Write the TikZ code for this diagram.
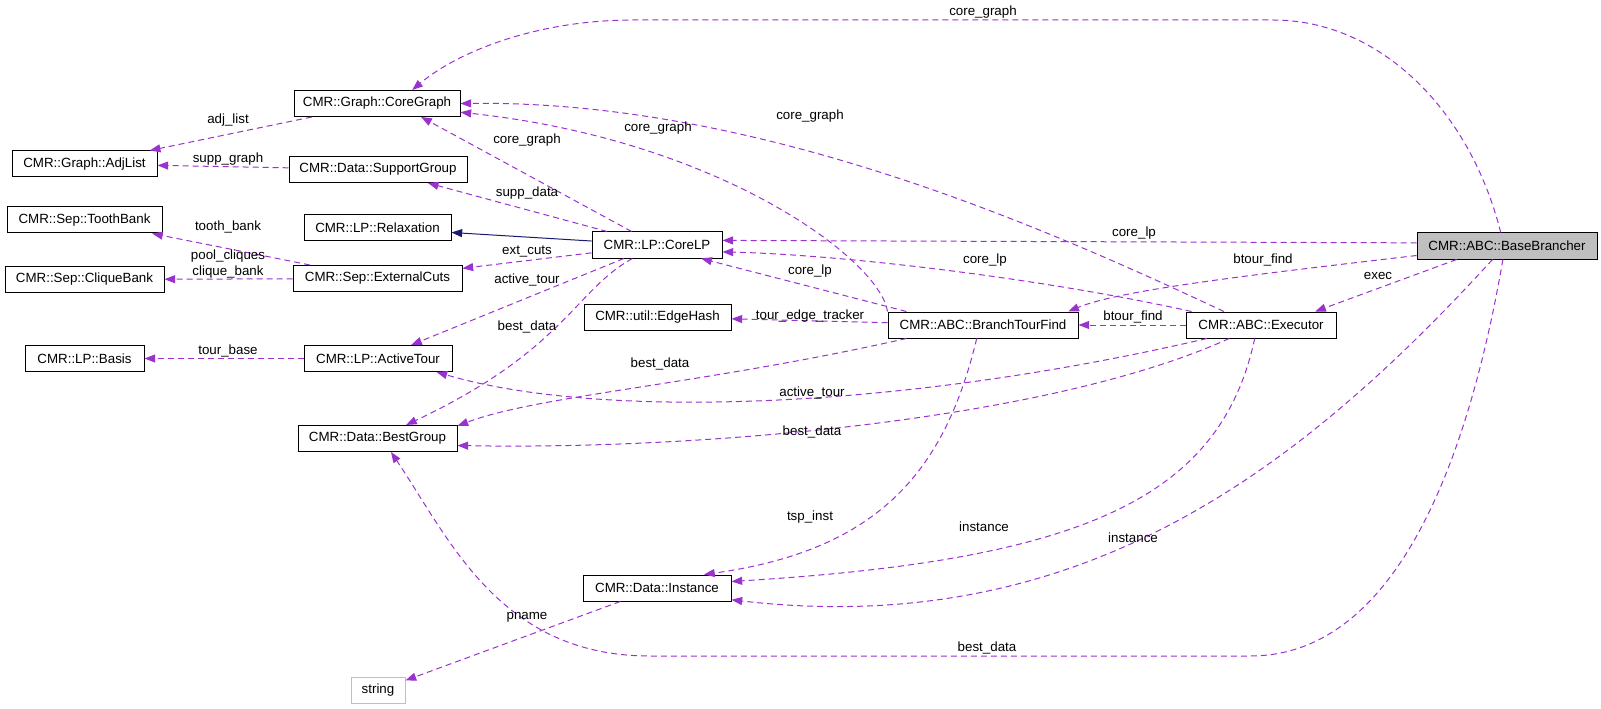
\documentclass[tikz,border=0pt]{standalone}
\usepackage{fontspec}
\setmainfont{Liberation Sans}
\usetikzlibrary{arrows.meta}
\definecolor{dxpurple}{RGB}{154,50,205}
\definecolor{dxnavy}{RGB}{25,25,112}
\definecolor{dxgray}{RGB}{191,191,191}
\tikzstyle{cls} = [rectangle, draw=black, line width=0.75pt, minimum height=19.5pt, inner sep=2pt, font=\fontsize{10}{12}\selectfont]
\tikzstyle{dep} = [line width=0.75pt, dxpurple, dash pattern=on 4.5pt off 3pt, -{Triangle[length=8pt,width=6pt]}]
\tikzstyle{inh} = [line width=0.75pt, dxnavy, -{Triangle[length=8pt,width=6pt]}]
\tikzstyle{lbl} = [inner sep=0pt, font=\fontsize{10}{11.5}\selectfont, align=center]
\begin{document}
\begin{tikzpicture}[x=0.75pt, y=-0.75pt]
\useasboundingbox (0,0) rectangle (1601,709);

% Left column
\node (adjlist) [cls, minimum width=108.75pt] at (84.5,164) {CMR::Graph::AdjList};
\node (toothbank) [cls, minimum width=116.25pt] at (84.5,220) {CMR::Sep::ToothBank};
\node (cliquebank) [cls, minimum width=119.25pt] at (84.5,279.5) {CMR::Sep::CliqueBank};
\node (basis) [cls, minimum width=89.25pt] at (84.5,358.5) {CMR::LP::Basis};

% Second column
\node (coregraph) [cls, minimum width=124.5pt] at (377,103.5) {CMR::Graph::CoreGraph};
\node (suppgroup) [cls, minimum width=133.5pt] at (378,169.5) {CMR::Data::SupportGroup};
\node (relaxation) [cls, minimum width=110.25pt] at (377.5,228) {CMR::LP::Relaxation};
\node (extcuts) [cls, minimum width=126.75pt] at (377.5,278.5) {CMR::Sep::ExternalCuts};
\node (activetour) [cls, minimum width=111pt] at (378,358.5) {CMR::LP::ActiveTour};
\node (bestgroup) [cls, minimum width=119.25pt] at (377.5,438.5) {CMR::Data::BestGroup};
\node (string) [cls, draw=dxgray, minimum width=40.5pt] at (378,690.5) {string};

% Third column
\node (corelp) [cls, minimum width=97.5pt] at (657,245) {CMR::LP::CoreLP};
\node (edgehash) [cls, minimum width=110.25pt] at (657.5,317) {CMR::util::EdgeHash};
\node (instance) [cls, minimum width=111pt] at (657,588) {CMR::Data::Instance};

% Right part
\node (btf) [cls, minimum width=142.5pt] at (983,325) {CMR::ABC::BranchTourFind};
\node (executor) [cls, minimum width=112.5pt] at (1261,325) {CMR::ABC::Executor};
\node (basebrancher) [cls, fill=dxgray, minimum width=135pt] at (1507,246) {CMR::ABC::BaseBrancher};

% Left column edges
\draw[dep] (coregraph) -- (adjlist);
\draw[dep] (suppgroup) -- (adjlist);
\draw[dep] (extcuts) -- (toothbank);
\draw[dep] (extcuts) -- (cliquebank);
\draw[dep] (activetour) -- (basis);

% CoreLP edges
\draw[inh] (corelp) -- (relaxation);
\draw[dep] (corelp) -- (extcuts);
\draw[dep] (corelp) -- (activetour);
\draw[dep] (corelp) .. controls (575,290) and (565,350) .. (bestgroup);
\draw[dep] (corelp.152) -- (coregraph.343);
\draw[dep] (corelp) -- (suppgroup);

% BranchTourFind edges
\draw[dep] (btf.north west) .. controls (880,260) and (720,140) .. (coregraph.-6);
\draw[dep] (btf.170) -- (corelp.-17);
\draw[dep] (btf) -- (edgehash);
\draw[dep] (btf.190) .. controls (700,385) and (540,395) .. (bestgroup.9);
\draw[dep] (btf.245) .. controls (945,470) and (880,550) .. (instance.16);

% Executor edges
\draw[dep] (executor.160) .. controls (1050,230) and (760,100) .. (coregraph.east);
\draw[dep] (executor.169) .. controls (1050,280) and (850,255) .. (corelp.-6);
\draw[dep] (executor) -- (btf);
\draw[dep] (executor.194) .. controls (900,410) and (600,420) .. (activetour.-13);
\draw[dep] (executor.203) .. controls (1050,420) and (700,450) .. (bestgroup.-5);
\draw[dep] (executor.245) .. controls (1220,500) and (1080,560) .. (instance.5);

% BaseBrancher edges
\draw[dep] (basebrancher.115) .. controls (1470,110) and (1380,20) .. (1273,20) -- (633,20) .. controls (540,20) and (460,50) .. (coregraph.21);
\draw[dep] (basebrancher.178) -- (corelp.4);
\draw[dep] (basebrancher.186) .. controls (1250,275) and (1120,290) .. (btf.9);
\draw[dep] (basebrancher.195) -- (executor.14);
\draw[dep] (basebrancher.223) .. controls (1300,470) and (1080,640) .. (instance.-9);
\draw[dep] (basebrancher.253) .. controls (1470,450) and (1400,656) .. (1250,656) -- (650,656) .. controls (500,656) and (450,540) .. (bestgroup.-45);

% Instance edge
\draw[dep] (instance) -- (string);

% Labels
\node (l-adj) [lbl] at (228,120) {adj\_list};
\node (l-suppgraph) [lbl] at (228,159) {supp\_graph};
\node (l-tooth) [lbl] at (228,227) {tooth\_bank};
\node (l-clique) [lbl] at (228,264) {pool\_cliques\\clique\_bank};
\node (l-tourbase) [lbl] at (228,351) {tour\_base};
\node (l-cg-lp) [lbl] at (527,140) {core\_graph};
\node (l-suppdata) [lbl] at (527,193) {supp\_data};
\node (l-extcuts) [lbl] at (527,252) {ext\_cuts};
\node (l-at-lp) [lbl] at (527,280) {active\_tour};
\node (l-bd-lp) [lbl] at (527,327) {best\_data};
\node (l-cg-btf) [lbl] at (658,128) {core\_graph};
\node (l-cg-exec) [lbl] at (810,116) {core\_graph};
\node (l-cg-bb) [lbl] at (983,12) {core\_graph};
\node (l-lp-bb) [lbl] at (1134,233) {core\_lp};
\node (l-lp-exec) [lbl] at (985,260) {core\_lp};
\node (l-lp-btf) [lbl] at (810,271) {core\_lp};
\node (l-bt-bb) [lbl] at (1263,260) {btour\_find};
\node (l-exec) [lbl] at (1378,276) {exec};
\node (l-bt-exec) [lbl] at (1133,317) {btour\_find};
\node (l-tracker) [lbl] at (810,316) {tour\_edge\_tracker};
\node (l-bd-btf) [lbl] at (660,364) {best\_data};
\node (l-at-exec) [lbl] at (812,393) {active\_tour};
\node (l-bd-exec) [lbl] at (812,432) {best\_data};
\node (l-tsp) [lbl] at (810,517) {tsp\_inst};
\node (l-inst-exec) [lbl] at (984,527) {instance};
\node (l-inst-bb) [lbl] at (1133,538) {instance};
\node (l-bd-bb) [lbl] at (987,648) {best\_data};
\node (l-pname) [lbl] at (527,617) {pname};
\end{tikzpicture}
\end{document}
